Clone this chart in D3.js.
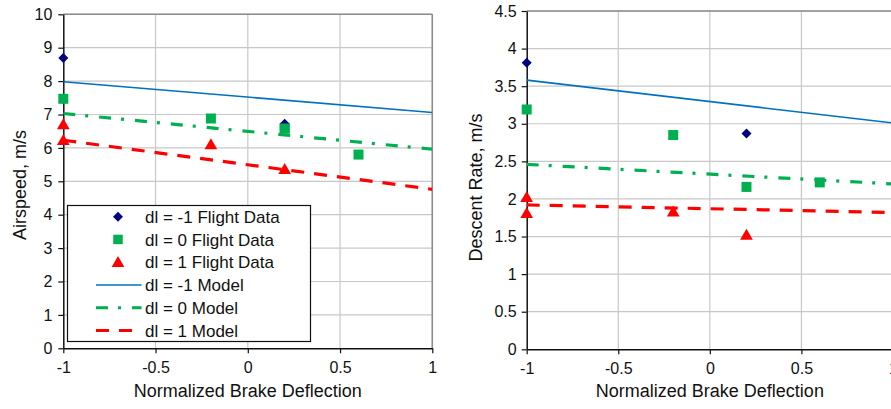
<!doctype html>
<html lang="en">
<head>
<meta charset="utf-8">
<title>Airspeed and Descent Rate</title>
<script src="https://cdn.jsdelivr.net/npm/d3@7"></script>
<style>
  body { margin: 0; background: #fff; }
  svg { display: block; font-family: "Liberation Sans", Arial, Helvetica, sans-serif; }
</style>
</head>
<body>
<script>

// series names
var seriesNames = ["dl = -1 Flight Data", "dl = 0 Flight Data", "dl = 1 Flight Data",
                   "dl = -1 Model", "dl = 0 Model", "dl = 1 Model"];

var xTicks = [-1, -0.5, 0, 0.5, 1];
var xTickLabels = ["-1", "-0.5", "0", "0.5", "1"];

// airspeed, m/s
var airX = { dm1: [-1, 0.2], d0: [-1, -0.2, 0.2, 0.6], d1: [-1, -1, -0.2, 0.2] };
var airDataDm1 = [8.69, 6.72];
var airDataD0 = [7.47, 6.88, 6.58, 5.80];
var airDataD1 = [6.70, 6.23, 6.10, 5.36];
var modelX = [-1, 1];
var airModelDm1 = [7.98, 7.06];
var airModelD0 = [7.03, 5.96];
var airModelD1 = [6.23, 4.76];
var airTicks = [0, 1, 2, 3, 4, 5, 6, 7, 8, 9, 10];

// descent rate, m/s
var descX = { dm1: [-1, 0.2], d0: [-1, -0.2, 0.2, 0.6], d1: [-1, -1, -0.2, 0.2] };
var descDataDm1 = [3.81, 2.87];
var descDataD0 = [3.19, 2.85, 2.16, 2.22];
var descDataD1 = [2.02, 1.81, 1.83, 1.52];
var descModelDm1 = [3.58, 3.01];
var descModelD0 = [2.46, 2.20];
var descModelD1 = [1.92, 1.82];
var descTicks = [0, 0.5, 1, 1.5, 2, 2.5, 3, 3.5, 4, 4.5];

var width = 891, height = 409;

var svg = d3.select("body").append("svg")
    .attr("width", width)
    .attr("height", height);

var navy = "#000080", green = "#00b050", red = "#ff0000", blue = "#0070c0";

function zip(xs, ys) { return xs.map(function(x, i) { return [x, ys[i]]; }); }

function drawChart(cfg) {

    var x = d3.scaleLinear().domain([-1, 1]).range([cfg.left, cfg.right]);
    var y = d3.scaleLinear().domain([0, cfg.yMax]).range([cfg.bottom, cfg.top]);

    var g = svg.append("g");

    // grid
    g.append("g").selectAll("line").data(cfg.yTicks.slice(1)).enter().append("line")
        .attr("x1", cfg.left).attr("x2", cfg.right)
        .attr("y1", function(d) { return y(d); }).attr("y2", function(d) { return y(d); })
        .attr("stroke", "#c8c8c8").attr("stroke-width", 1.2);
    g.append("g").selectAll("line").data(xTicks.slice(1)).enter().append("line")
        .attr("x1", function(d) { return x(d); }).attr("x2", function(d) { return x(d); })
        .attr("y1", cfg.top).attr("y2", cfg.bottom)
        .attr("stroke", "#c8c8c8").attr("stroke-width", 1.2);

    // top and right border
    g.append("line").attr("x1", cfg.left).attr("x2", cfg.right).attr("y1", cfg.top).attr("y2", cfg.top)
        .attr("stroke", "#8c8c8c").attr("stroke-width", 1.5);
    g.append("line").attr("x1", cfg.right).attr("x2", cfg.right).attr("y1", cfg.top).attr("y2", cfg.bottom)
        .attr("stroke", "#8c8c8c").attr("stroke-width", 1.5);

    // axes
    var xAxis = d3.axisBottom(x).tickValues(xTicks)
        .tickFormat(function(d, i) { return xTickLabels[i]; })
        .tickSize(5).tickSizeOuter(0).tickPadding(8);
    var yAxis = d3.axisLeft(y).tickValues(cfg.yTicks)
        .tickFormat(d3.format("")).tickSize(5).tickSizeOuter(0).tickPadding(cfg.yPad);

    var gx = g.append("g").attr("transform", "translate(0," + cfg.bottom + ")").call(xAxis);
    var gy = g.append("g").attr("transform", "translate(" + cfg.left + ",0)").call(yAxis);
    [gx, gy].forEach(function(a) {
        a.select(".domain").attr("stroke", "#111").attr("stroke-width", 1.5);
        a.selectAll(".tick line").attr("stroke", "#111").attr("stroke-width", 1.2);
        a.selectAll(".tick text").attr("fill", "#111").style("font-size", "16px")
            .style("font-family", "'Liberation Sans', Arial, sans-serif");
    });

    // axis titles
    g.append("text")
        .attr("x", (cfg.left + cfg.xTitleRight) / 2).attr("y", 397)
        .attr("text-anchor", "middle").style("font-size", "18px").attr("fill", "#111")
        .text("Normalized Brake Deflection");
    g.append("text")
        .attr("transform", "translate(" + cfg.yTitleX + "," + cfg.yTitleY + ") rotate(-90)")
        .attr("text-anchor", "middle").style("font-size", "18px").attr("fill", "#111")
        .text(cfg.yTitle);

    // clip lines to plot
    var clipId = "clip" + cfg.id;
    svg.append("clipPath").attr("id", clipId).append("rect")
        .attr("x", cfg.left).attr("y", cfg.top)
        .attr("width", cfg.right - cfg.left).attr("height", cfg.bottom - cfg.top);

    var line = d3.line().x(function(d) { return x(d[0]); }).y(function(d) { return y(d[1]); });
    var lines = g.append("g").attr("clip-path", "url(#" + clipId + ")");

    lines.append("path").datum(zip(modelX, cfg.modelDm1)).attr("d", line)
        .attr("fill", "none").attr("stroke", blue).attr("stroke-width", 1.6);
    lines.append("path").datum(zip(modelX, cfg.modelD0)).attr("d", line)
        .attr("fill", "none").attr("stroke", green).attr("stroke-width", 3.2)
        .attr("stroke-dasharray", "12,10,3,11");
    lines.append("path").datum(zip(modelX, cfg.modelD1)).attr("d", line)
        .attr("fill", "none").attr("stroke", red).attr("stroke-width", 3.2)
        .attr("stroke-dasharray", "13,10");

    var diamond = d3.symbol().type(d3.symbolSquare).size(50);
    var square = d3.symbol().type(d3.symbolSquare).size(100);
    var triangle = d3.symbol().type(d3.symbolTriangle).size(70);

    g.append("g").selectAll("path").data(zip(cfg.xs.d0, cfg.dataD0)).enter().append("path")
        .attr("d", square)
        .attr("transform", function(d) { return "translate(" + x(d[0]) + "," + y(d[1]) + ")"; })
        .attr("fill", green);
    g.append("g").selectAll("path").data(zip(cfg.xs.d1, cfg.dataD1)).enter().append("path")
        .attr("d", triangle)
        .attr("transform", function(d) { return "translate(" + x(d[0]) + "," + (y(d[1]) + 1) + ")"; })
        .attr("fill", red);
    g.append("g").selectAll("path").data(zip(cfg.xs.dm1, cfg.dataDm1)).enter().append("path")
        .attr("d", diamond)
        .attr("transform", function(d) { return "translate(" + x(d[0]) + "," + y(d[1]) + ") rotate(45)"; })
        .attr("fill", navy);

    // draw squares over the diamond where they overlap (as in reference)
    if (cfg.squaresOnTop) {
        g.append("g").selectAll("path").data(zip(cfg.xs.d0, cfg.dataD0).filter(function(d) { return d[0] === 0.2; }))
            .enter().append("path").attr("d", square)
            .attr("transform", function(d) { return "translate(" + x(d[0]) + "," + y(d[1]) + ")"; })
            .attr("fill", green);
    }

    return { x: x, y: y, g: g };
}

drawChart({
    id: "air", left: 63.3, right: 432.3, top: 14.3, bottom: 348.3, yMax: 10, yPad: 6,
    yTicks: airTicks, yTitle: "Airspeed, m/s", yTitleX: 26, yTitleY: 185, xTitleRight: 432.3,
    xs: airX, dataDm1: airDataDm1, dataD0: airDataD0, dataD1: airDataD1,
    modelDm1: airModelDm1, modelD0: airModelD0, modelD1: airModelD1, squaresOnTop: true
});

drawChart({
    id: "desc", left: 526.7, right: 893, top: 11, bottom: 349.3, yMax: 4.5, yPad: 5,
    yTicks: descTicks, yTitle: "Descent Rate, m/s", yTitleX: 482, yTitleY: 187.5, xTitleRight: 893,
    xs: descX, dataDm1: descDataDm1, dataD0: descDataD0, dataD1: descDataD1,
    modelDm1: descModelDm1, modelD0: descModelD0, modelD1: descModelD1, squaresOnTop: false
});

// legend (left chart)
var legend = svg.append("g");
legend.append("rect").attr("x", 67.5).attr("y", 205.5).attr("width", 243).attr("height", 136)
    .attr("fill", "#fff").attr("stroke", "#111").attr("stroke-width", 1.2);

var rowY = d3.scalePoint().domain(seriesNames).range([216.7, 330.5]);
var legendStyles = [
    { kind: "diamond", color: navy }, { kind: "square", color: green }, { kind: "triangle", color: red },
    { kind: "line", color: blue, w: 1.6, dash: null },
    { kind: "line", color: green, w: 3.2, dash: "12,10,3,11" },
    { kind: "line", color: red, w: 3.2, dash: "13,10" }
];

seriesNames.forEach(function(name, i) {
    var s = legendStyles[i], cy = rowY(name);
    if (s.kind === "line") {
        legend.append("line").attr("x1", 96).attr("x2", 141.5).attr("y1", cy).attr("y2", cy)
            .attr("stroke", s.color).attr("stroke-width", s.w)
            .attr("stroke-dasharray", s.dash);
    } else {
        var sym = s.kind === "diamond" ? d3.symbol().type(d3.symbolSquare).size(50)
                : s.kind === "square" ? d3.symbol().type(d3.symbolSquare).size(90)
                : d3.symbol().type(d3.symbolTriangle).size(70);
        legend.append("path").attr("d", sym)
            .attr("transform", "translate(118," + (cy + (s.kind === "triangle" ? 1 : 0)) + ")" + (s.kind === "diamond" ? " rotate(45)" : ""))
            .attr("fill", s.color);
    }
    legend.append("text").attr("x", 145).attr("y", cy).attr("dy", "0.36em")
        .style("font-size", "17px").attr("fill", "#111").text(name);
});

</script>
</body>
</html>
